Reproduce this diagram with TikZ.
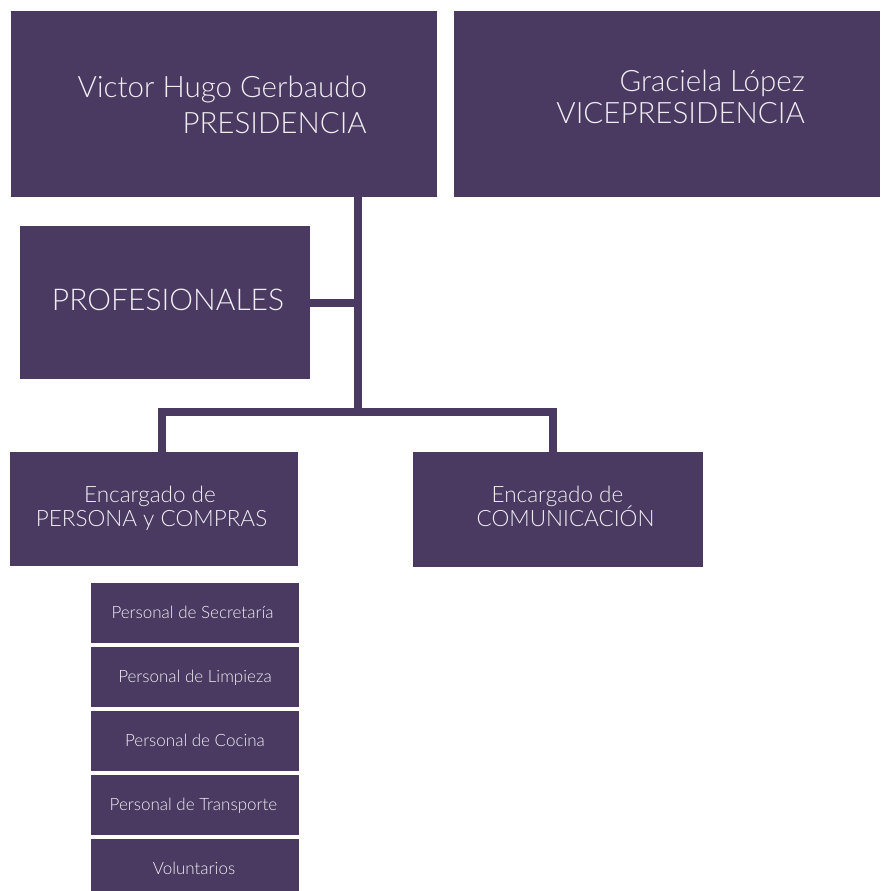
\documentclass[tikz,border=0pt]{standalone}
\usepackage{fontspec}
\setmainfont{Lato Light}
\definecolor{orgpurple}{RGB}{74,58,98}
\definecolor{orgtext}{RGB}{240,238,243}
\begin{document}
\begin{tikzpicture}[x=1pt,y=-1pt,
  box/.style={fill=orgpurple,draw=none,rectangle,inner sep=0pt},
  conn/.style={draw=orgpurple,line width=8pt},
  big/.style={text=orgtext,inner sep=0pt,font=\fontsize{29.5}{34}\selectfont},
  mid/.style={text=orgtext,inner sep=0pt,font=\fontsize{22.5}{26}\selectfont},
  small/.style={text=orgtext,inner sep=0pt,font=\fontsize{17}{20}\selectfont},
  staff/.style={box,minimum width=208pt,minimum height=60pt}]
\useasboundingbox (0,0) rectangle (885,891);

% top level
\node[box,minimum width=426pt,minimum height=186pt] (pres) at (224,104) {};
\node[big,anchor=base east] (presname) at (367,97) {Victor Hugo Gerbaudo};
\node[big,anchor=base east] (presrole) at (367,133) {PRESIDENCIA};

\node[box,minimum width=426pt,minimum height=186pt] (vice) at (667,104) {};
\node[big,anchor=base east] (vicename) at (805,92) {Graciela López};
\node[big,anchor=base east] (vicerole) at (805,123.5) {VICEPRESIDENCIA};

% advisors
\node[box,minimum width=290pt,minimum height=153pt] (prof) at (165,302.5) {};
\node[big,anchor=base,font=\fontsize{30}{34}\selectfont] (proftext) at (168,310) {PROFESIONALES};

% managers
\node[box,minimum width=288pt,minimum height=114pt] (pers) at (154,509) {};
\node[mid,anchor=base] (pers1) at (150,502) {Encargado de};
\node[mid,anchor=base] (pers2) at (151.5,526) {PERSONA y COMPRAS};

\node[box,minimum width=290pt,minimum height=115pt] (comm) at (558,509.5) {};
\node[mid,anchor=base] (comm1) at (557.5,502) {Encargado de};
\node[mid,anchor=base] (comm2) at (565.5,526) {COMUNICACIÓN};

% staff under the purchasing manager
\node[staff] (s1) at (195,613) {};
\node[small,anchor=base] at (192.5,618) {Personal de Secretaría};
\node[staff] (s2) at (195,677) {};
\node[small,anchor=base] at (195,682) {Personal de Limpieza};
\node[staff] (s3) at (195,741) {};
\node[small,anchor=base] at (195,746) {Personal de Cocina};
\node[staff] (s4) at (195,805) {};
\node[small,anchor=base] at (193.5,810) {Personal de Transporte};
\node[staff] (s5) at (195,869) {};
\node[small,anchor=base] at (194,874) {Voluntarios};

% connectors
\coordinate (bus) at (357.5,412);
\coordinate (d1) at (162,452);
\coordinate (d2) at (553,452);
\draw[conn] (pres.south -| bus) -- (bus);
\draw[conn] (prof.east) -- (prof.east -| bus);
\draw[conn] (d1) |- (bus) -| (d2);
\end{tikzpicture}
\end{document}
